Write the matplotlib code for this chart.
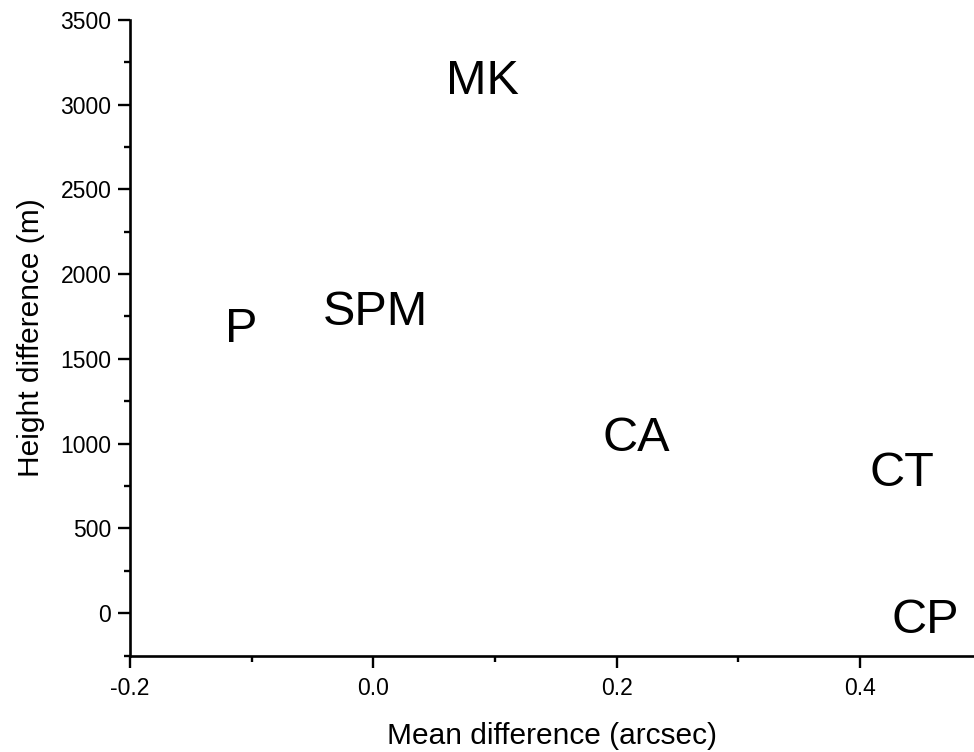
import numpy as np
import matplotlib.pyplot as plt
from matplotlib.ticker import MultipleLocator

plt.rcParams['font.family'] = ['Liberation Sans', 'DejaVu Sans']

# site labels placed at (mean difference, height difference)
names = ['MK', 'P', 'SPM', 'CA', 'CT', 'CP']
mean_diff = [0.0898, -0.109, 0.0018, 0.2164, 0.4346, 0.4535]
height_diff = [3060, 1598, 1697, 959, 748, -118]

fig = plt.figure(figsize=(9.74, 7.52), dpi=100)
ax = fig.add_axes([130/974, (752-655.5)/752, (974-130)/974, (655.5-19.8)/752])

for n, xv, yv in zip(names, mean_diff, height_diff):
    ax.text(xv, yv, n, fontsize=35, ha='center', va='baseline')

ax.set_xlim(-0.2, 0.4938)
ax.set_ylim(-250, 3500)
ax.xaxis.set_major_locator(MultipleLocator(0.2))
ax.xaxis.set_minor_locator(MultipleLocator(0.1))
ax.yaxis.set_major_locator(MultipleLocator(500))
ax.yaxis.set_minor_locator(MultipleLocator(250))
ax.set_xticks([-0.2, 0.0, 0.2, 0.4])
ax.set_xticklabels(['-0.2', '0.0', '0.2', '0.4'])

ax.spines['top'].set_visible(False)
ax.spines['right'].set_visible(False)
for s in ['left', 'bottom']:
    ax.spines[s].set_linewidth(1.9)

ax.tick_params(which='major', direction='out', length=8.5, width=1.7, labelsize=16.5)
ax.tick_params(which='minor', direction='out', length=4.5, width=1.7)
ax.tick_params(axis='x', which='major', pad=7)
ax.tick_params(axis='y', which='major', pad=5)

ax.set_xlabel('Mean difference (arcsec)', fontsize=21.5, labelpad=16)
ax.set_ylabel('Height difference (m)', fontsize=21.5, labelpad=11)

fig.savefig('out.png', dpi=100)
